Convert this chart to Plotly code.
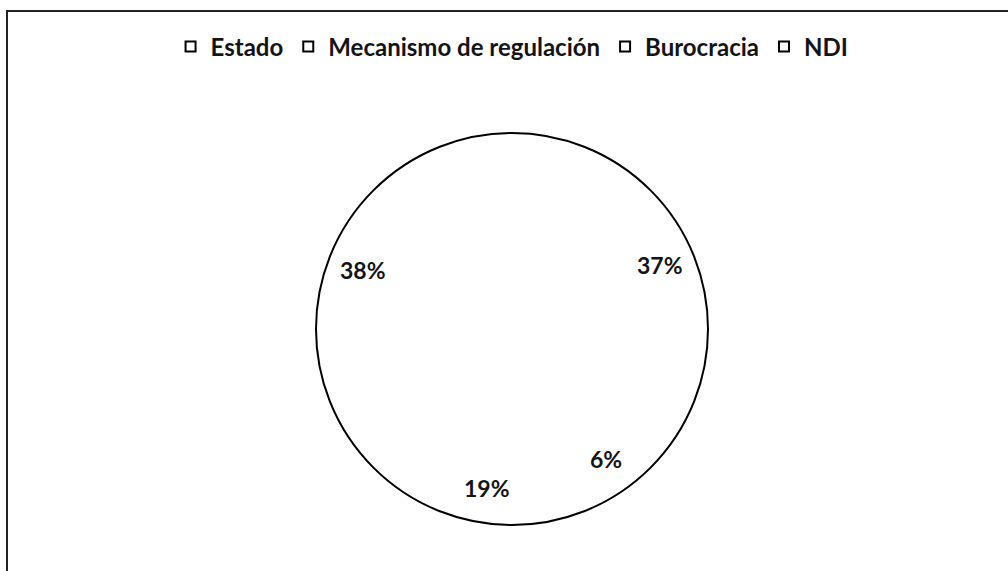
import math
import plotly.graph_objects as go

# Share of each category (percent)
categories = ["Estado", "Mecanismo de regulación", "Burocracia", "NDI"]
shares = [37, 6, 19, 38]
pct_labels = ["37%", "6%", "19%", "38%"]

W, H = 1008, 571
FONT = "Lato"

# Pie placement (pixels of the figure)
cx_px, cy_px, r_px = 512, 329, 196
dom_x = [(cx_px - r_px) / W, (cx_px + r_px) / W]
dom_y = [1 - (cy_px + r_px) / H, 1 - (cy_px - r_px) / H]

fig = go.Figure()

# White slices with no separators
fig.add_trace(go.Pie(
    labels=categories, values=shares, sort=False, direction="clockwise",
    rotation=0, domain=dict(x=dom_x, y=dom_y),
    marker=dict(colors=["white"] * len(shares), line=dict(width=0)),
    textinfo="none", hoverinfo="label+percent", showlegend=False,
))

# Outer rim of the pie
fig.add_trace(go.Pie(
    labels=["total"], values=[sum(shares)], sort=False,
    domain=dict(x=dom_x, y=dom_y),
    marker=dict(colors=["rgba(0,0,0,0)"], line=dict(color="black", width=2)),
    textinfo="none", hoverinfo="skip", showlegend=False,
))

# Legend entries (hollow squares)
for name in categories:
    fig.add_trace(go.Scatter(
        x=[None], y=[None], mode="markers", name=name,
        marker=dict(symbol="square", size=10, color="white",
                    line=dict(color="black", width=2)),
    ))

# Percentage labels placed at the middle angle of each slice
total = sum(shares)
cum = 0
for v, txt in zip(shares, pct_labels):
    mid = (cum + v / 2) / total * 2 * math.pi
    cum += v
    rr = 0.82 * r_px
    x_px = cx_px + rr * math.sin(mid)
    y_px = cy_px - rr * math.cos(mid)
    fig.add_annotation(
        x=x_px / W, y=1 - y_px / H, xref="paper", yref="paper",
        text=txt, showarrow=False, xanchor="center", yanchor="middle",
        font=dict(family=FONT, size=23, color="#141414", weight="bold"),
    )

# Chart frame
fig.add_shape(type="rect", xref="paper", yref="paper",
              x0=7 / W, y0=-0.05, x1=1.05, y1=1 - 11 / H,
              line=dict(color="#222222", width=2), fillcolor="rgba(0,0,0,0)")

fig.update_layout(
    width=W, height=H,
    margin=dict(l=0, r=0, t=0, b=0),
    paper_bgcolor="white", plot_bgcolor="white",
    xaxis=dict(visible=False), yaxis=dict(visible=False),
    showlegend=True,
    legend=dict(orientation="h", x=0.508, xanchor="center",
                y=1 - 47 / H, yanchor="middle",
                font=dict(family=FONT, size=24, color="#141414", weight="bold"),
                itemwidth=30, bgcolor="rgba(0,0,0,0)"),
)

fig.write_html("out.html")
